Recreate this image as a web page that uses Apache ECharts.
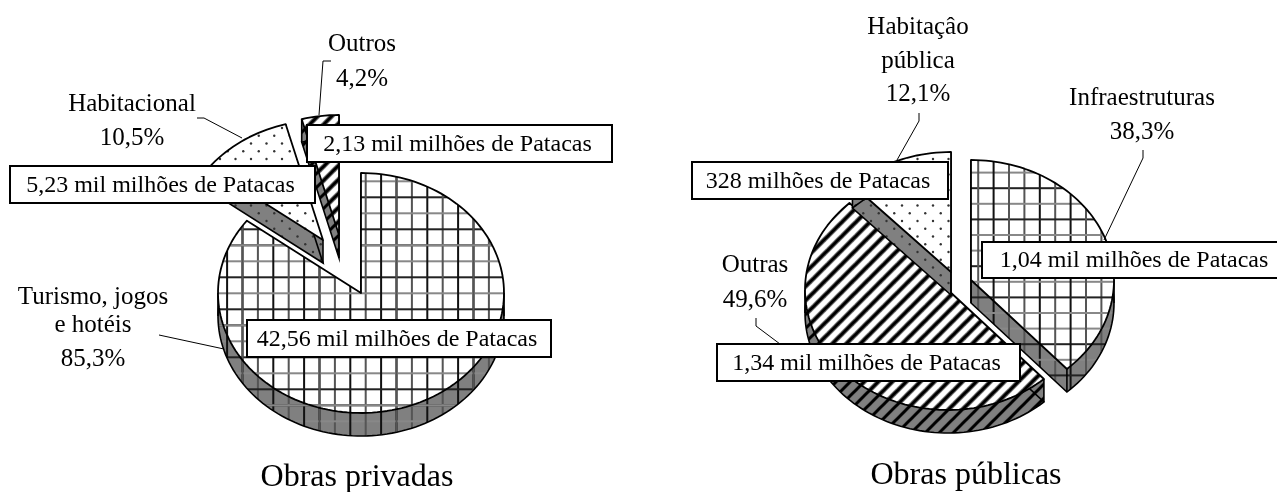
<!DOCTYPE html>
<html>
<head>
<meta charset="utf-8">
<style>
html, body { margin: 0; padding: 0; background: #fff; }
#main { width: 1277px; height: 492px; }
</style>
<script src="https://cdn.jsdelivr.net/npm/echarts@6/dist/echarts.min.js"></script>
</head>
<body>
<div id="main"></div>
<script>
// dados
var privateNames = ['Turismo, jogos e hotéis', 'Habitacional', 'Outros'];
var privateShares = [85.3, 10.5, 4.2];
var privateAmounts = ['42,56 mil milhões de Patacas', '5,23 mil milhões de Patacas', '2,13 mil milhões de Patacas'];
var publicNames = ['Infraestruturas', 'Outras', 'Habitaçâo pública'];
var publicShares = [38.3, 49.6, 12.1];
var publicAmounts = ['1,04 mil milhões de Patacas', '1,34 mil milhões de Patacas', '328 milhões de Patacas'];
var titles = ['Obras privadas', 'Obras públicas'];

var FONT = '"Liberation Serif", "Times New Roman", serif';
var RX = 143, RY = 120, DEPTH = 23;
var GREY = '#808080';

// centros das fatias destacadas
var privateCentres = [[361, 293], [323, 240], [339, 235]];
var publicCentres = [[971, 280], [948, 290], [951, 272]];

function tile(w, h, draw) {
	var c = document.createElement('canvas');
	c.width = w;
	c.height = h;
	draw(c.getContext('2d'));
	return { image: c, repeat: 'repeat' };
}
function gridPattern(px, py, x0, y0, bg) {
	var w = Math.round(px * 5), h = Math.round(py * 5);
	return tile(w, h, function (g) {
		g.fillStyle = bg;
		g.fillRect(0, 0, w, h);
		for (var i = 0; i < 6; i++) {
			g.fillStyle = i % 2 ? '#555' : '#111';
			g.fillRect(((x0 + i * px) % w) - 1, 0, 2, h);
			g.fillStyle = i % 2 ? '#888' : '#222';
			g.fillRect(0, ((y0 + i * py) % h) - 1, w, 2);
		}
	});
}
function stripePattern(bg) {
	return tile(14, 14, function (g) {
		g.fillStyle = bg;
		g.fillRect(0, 0, 14, 14);
		var widths = [[5, '#777'], [3, '#000']];
		widths.forEach(function (s) {
			g.strokeStyle = s[1];
			g.lineWidth = s[0];
			for (var k = -14; k <= 28; k += 14) {
				g.beginPath();
				g.moveTo(k - 2, 16);
				g.lineTo(k + 16, -2);
				g.stroke();
			}
		});
	});
}
function dotPattern(bg) {
	return tile(31, 31, function (g) {
		g.fillStyle = bg;
		g.fillRect(0, 0, 31, 31);
		g.fillStyle = '#333';
		for (var r = 0; r < 4; r++) {
			for (var c = 0; c < 2; c++) {
				g.beginPath();
				g.arc((3 + c * 15.5 + (r % 2 ? 7.75 : 0)) % 31, 4 + r * 7.75, 1.2, 0, Math.PI * 2);
				g.fill();
			}
		}
	});
}

var gridLeft = gridPattern(15.4, 16, 11.5, 5.3, '#fff');
var gridLeftDark = gridPattern(15.4, 16, 11.5, 5.3, GREY);
var gridRight = gridPattern(15.4, 15.6, 8, 1, '#fff');
var gridRightDark = gridPattern(15.4, 15.6, 8, 1, GREY);
var stripes = stripePattern('#fff');
var stripesDark = stripePattern(GREY);
var dots = dotPattern('#fff');
var dotsDark = dotPattern(GREY);

var privateFills = [[gridLeft, gridLeftDark], [dots, dotsDark], [stripes, stripesDark]];
var publicFills = [[gridRight, gridRightDark], [stripes, stripesDark], [dots, dotsDark]];

function at(c, deg, dy) {
	var a = deg * Math.PI / 180;
	return [c[0] + RX * Math.sin(a), c[1] - RY * Math.cos(a) + (dy || 0)];
}
function shifted(list) {
	return list.map(function (p) { return [p[0], p[1] + DEPTH]; });
}
function segment(a, b) {
	return { type: 'polyline', silent: true, shape: { points: [a, b] }, style: { fill: null, stroke: '#000', lineWidth: 1.6 } };
}

// fatia em perspectiva: paredes, contorno de baixo e face de cima
function sliceRenderer(shares, centres, fills) {
	return function (params, api) {
		var i = params.dataIndex;
		var start = 0;
		for (var k = 0; k < i; k++) start += shares[k];
		var from = start * 3.6;
		var to = from + api.value(0) * 3.6;
		var c = centres[i];
		var arc = [];
		var steps = Math.ceil((to - from) / 2);
		for (var s = 0; s <= steps; s++) {
			arc.push(at(c, from + (to - from) * s / steps));
		}
		var top = [c].concat(arc);
		var wallStyle = { fill: fills[i][1], stroke: null };
		var children = [
			{ type: 'polygon', silent: true, shape: { points: arc.concat(shifted(arc).reverse()) }, style: wallStyle },
			{ type: 'polygon', silent: true, shape: { points: [c, arc[0], [arc[0][0], arc[0][1] + DEPTH], [c[0], c[1] + DEPTH]] }, style: wallStyle },
			{ type: 'polygon', silent: true, shape: { points: [c, arc[steps], [arc[steps][0], arc[steps][1] + DEPTH], [c[0], c[1] + DEPTH]] }, style: wallStyle },
			{ type: 'polygon', silent: true, shape: { points: shifted(top) }, style: { fill: null, stroke: '#000', lineWidth: 1.6 } }
		];
		[c, arc[0], arc[steps]].forEach(function (p) {
			children.push(segment(p, [p[0], p[1] + DEPTH]));
		});
		[90, 270].forEach(function (deg) {
			if (deg > from && deg < to) {
				children.push(segment(at(c, deg), at(c, deg, DEPTH)));
			}
		});
		children.push({ type: 'polygon', silent: true, shape: { points: top }, style: { fill: fills[i][0], stroke: '#000', lineWidth: 1.8, lineJoin: 'round' } });
		return { type: 'group', children: children };
	};
}

function leader(points) {
	return { type: 'polyline', z: 20, silent: true, shape: { points: points }, style: { fill: null, stroke: '#000', lineWidth: 1 } };
}
function caption(text, x, y, size) {
	return { type: 'text', z: 30, silent: true, style: { text: text, x: x, y: y, fill: '#000', font: (size || 25) + 'px ' + FONT, align: 'center', verticalAlign: 'middle' } };
}
function box(text, x0, y0, x1, y1) {
	return {
		type: 'group', z: 25, silent: true,
		children: [
			{ type: 'rect', z: 25, shape: { x: x0, y: y0, width: x1 - x0, height: y1 - y0 }, style: { fill: '#fff', stroke: '#000', lineWidth: 2 } },
			{ type: 'text', z: 26, style: { text: text, x: (x0 + x1) / 2 - 2, y: (y0 + y1) / 2 + 1, fill: '#000', font: '24px ' + FONT, align: 'center', verticalAlign: 'middle' } }
		]
	};
}
function pct(v) {
	return v.toFixed(1).replace('.', ',') + '%';
}

var myChart = echarts.init(document.getElementById('main'), null, { renderer: 'canvas' });
var option = {
	animation: false,
	backgroundColor: '#fff',
	series: [
		{ type: 'custom', coordinateSystem: 'none', silent: true, data: privateShares.map(function (v) { return [v]; }), renderItem: sliceRenderer(privateShares, privateCentres, privateFills) },
		{ type: 'custom', coordinateSystem: 'none', silent: true, data: publicShares.map(function (v) { return [v]; }), renderItem: sliceRenderer(publicShares, publicCentres, publicFills) }
	],
	graphic: {
		elements: [
			leader([[331, 61], [323, 61], [319, 115]]),
			leader([[197, 118], [204, 118], [242, 138]]),
			leader([[159, 335], [224, 349]]),
			leader([[919, 113], [919, 121], [897, 160]]),
			leader([[1143, 150], [1143, 158], [1104, 240]]),
			leader([[756, 318], [756, 326], [780, 344]]),

			box(privateAmounts[2], 307, 125, 612, 162),
			box(privateAmounts[1], 10, 166, 315, 203),
			box(privateAmounts[0], 247, 320, 551, 357),
			box(publicAmounts[2], 692, 162, 948, 199),
			box(publicAmounts[0], 982, 242, 1290, 278),
			box(publicAmounts[1], 717, 344, 1020, 381),

			caption(privateNames[2], 362, 44),
			caption(pct(privateShares[2]), 362, 79),
			caption(privateNames[1], 132, 104),
			caption(pct(privateShares[1]), 132, 138),
			caption('Turismo, jogos', 93, 297),
			caption('e hotéis', 93, 325),
			caption(pct(privateShares[0]), 93, 359),
			caption('Habitaçâo', 918, 27),
			caption('pública', 918, 61),
			caption(pct(publicShares[2]), 918, 94),
			caption(publicNames[0], 1142, 98),
			caption(pct(publicShares[0]), 1142, 132),
			caption(publicNames[1], 755, 265),
			caption(pct(publicShares[1]), 755, 300),

			caption(titles[0], 357, 478, 32),
			caption(titles[1], 966, 476, 32)
		]
	}
};
myChart.setOption(option);
</script>
</body>
</html>
